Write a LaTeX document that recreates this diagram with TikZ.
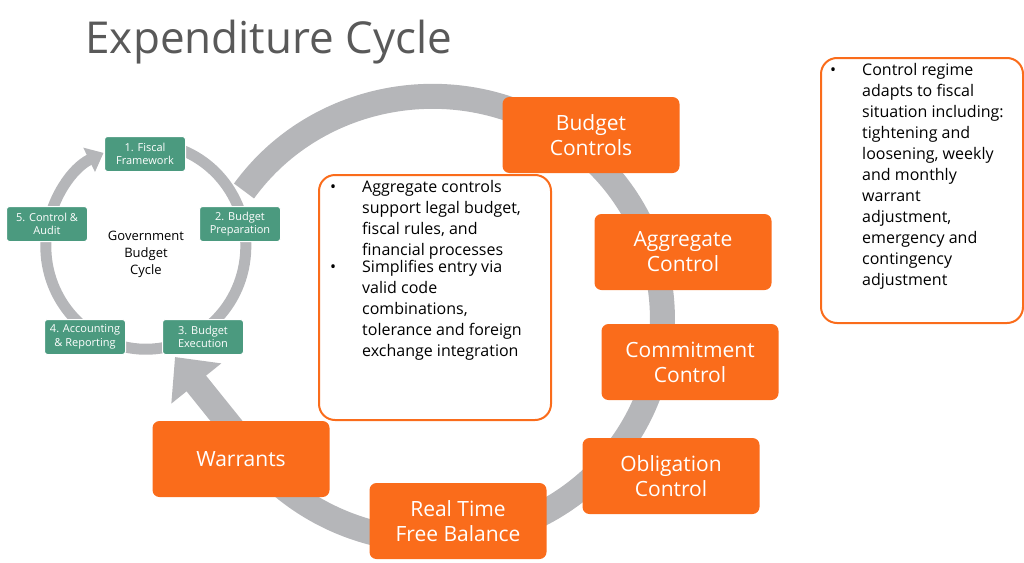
\documentclass[tikz,border=0pt]{standalone}
\usepackage{fontspec}
\setmainfont{Open Sans}
\usetikzlibrary{arrows.meta}
\definecolor{ringgray}{HTML}{B5B6B9}
\definecolor{boxorange}{HTML}{FA6C1B}
\definecolor{cyclegreen}{HTML}{4B9A7F}
\definecolor{titlegray}{HTML}{595959}
\newcommand{\bulletitem}[2]{\makebox[32pt][l]{\textbullet}\parbox[t]{#1}{\raggedright\hyphenpenalty=10000 #2}}
\tikzset{
    stagebox/.style={fill=boxorange, text=white, rounded corners=7pt, minimum width=177pt, minimum height=76pt,
        align=center, font=\fontsize{21}{25}\selectfont, inner sep=2pt},
    phasebox/.style={fill=cyclegreen, text=white, draw=white, line width=1pt, rounded corners=3pt, minimum width=81pt,
        minimum height=35pt, align=center, font=\fontsize{11}{13.5}\selectfont, inner sep=1pt},
    notebox/.style={draw=boxorange, line width=2pt, fill=white, rounded corners=16pt, anchor=north west, inner sep=0pt},
    notetext/.style={anchor=north west, align=left, font=\fontsize{16}{21}\selectfont, inner sep=0pt}
}
\begin{document}
\begin{tikzpicture}[x=1pt,y=-1pt]
            \useasboundingbox (0,0) rectangle (1024,562);
            %title
            \node[anchor=west, text=titlegray, font=\fontsize{44}{50}\selectfont] (title) at (82,42) {Expenditure Cycle};
            %big ring
            \draw[ringgray, line width=25pt, -{Triangle[width=62pt,length=34pt]}]
                (244,191) arc[start angle=215, end angle=510, x radius=230, y radius=222] -- (175,357);
            %small ring
            \draw[ringgray, line width=11pt, -{Triangle[width=26pt,length=16pt]}]
                (158,144) arc[start angle=277, end angle=605, x radius=100, y radius=103];
            %government budget cycle
            \node[phasebox] (fiscal) at (145,154) {1. Fiscal\\Framework};
            \node[phasebox] (prep) at (240,224) {2. Budget\\Preparation};
            \node[phasebox] (exec) at (203,337) {3. Budget\\Execution};
            \node[phasebox] (acct) at (85,337) {4. Accounting\\\& Reporting};
            \node[phasebox] (audit) at (47,224) {5. Control \&\\Audit};
            \node[align=center, font=\fontsize{13}{17}\selectfont] (govcycle) at (146,254) {Government\\Budget\\Cycle};
            %control stages
            \node[stagebox] (budget) at (591,135) {Budget\\Controls};
            \node[stagebox] (aggregate) at (683,252) {Aggregate\\Control};
            \node[stagebox] (commitment) at (690,362) {Commitment\\Control};
            \node[stagebox] (obligation) at (671,476) {Obligation\\Control};
            \node[stagebox] (balance) at (458,521) {Real Time\\Free Balance};
            \node[stagebox] (warrants) at (241,459) {Warrants};
            %notes
            \node[notebox, minimum width=232pt, minimum height=245pt] (aggnote) at (318,174) {};
            \node[notetext] (aggtext) at (330,180) {%
                \bulletitem{172pt}{Aggregate controls support legal budget, fiscal rules, and financial processes}\\
                \bulletitem{172pt}{Simplifies entry via valid code combinations, tolerance and foreign exchange integration}};
            \node[notebox, minimum width=202pt, minimum height=265pt] (regimenote) at (820,57) {};
            \node[notetext] (regimetext) at (830,63) {%
                \bulletitem{150pt}{Control regime adapts to fiscal situation including: tightening and loosening, weekly and monthly warrant adjustment, emergency and contingency adjustment}};
\end{tikzpicture}
\end{document}
